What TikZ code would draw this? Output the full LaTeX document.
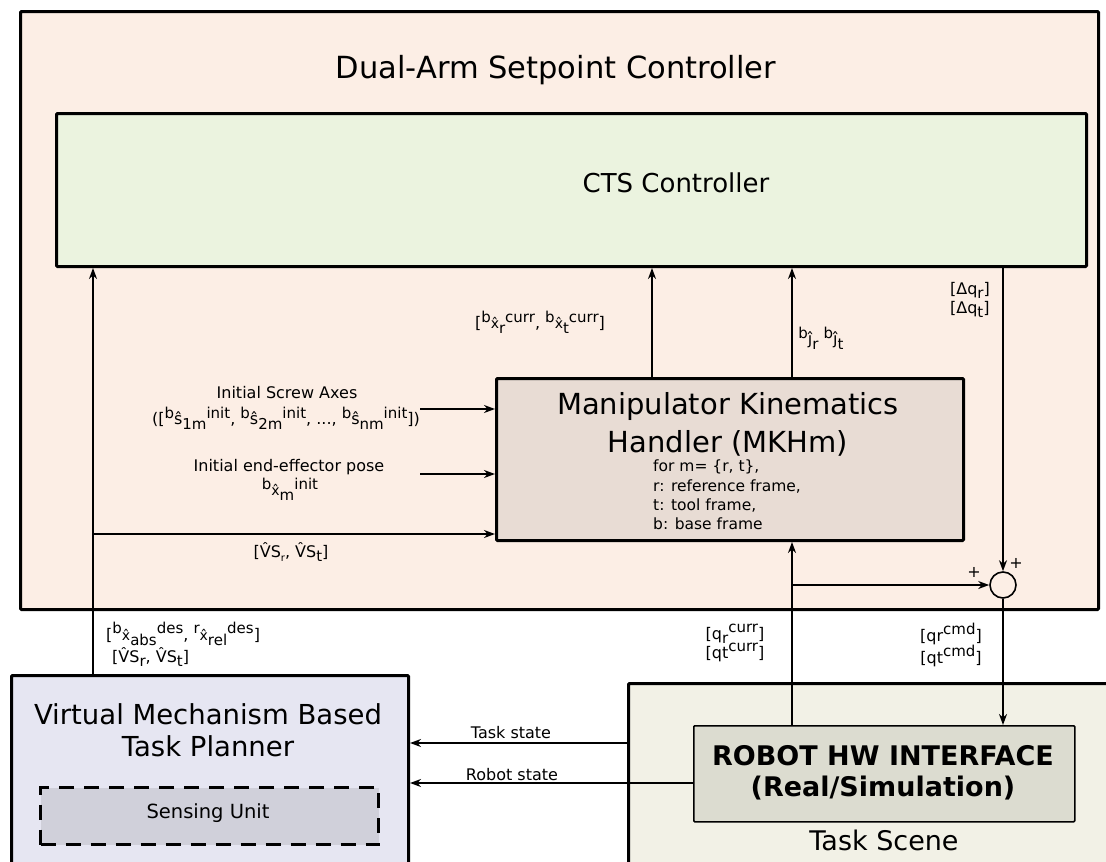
\documentclass[tikz,border=0pt]{standalone}
\usepackage{fontspec}
\setmainfont{DejaVu Sans}
\usetikzlibrary{arrows.meta}
\definecolor{peach}{HTML}{FCEEE5}
\definecolor{ctsgreen}{HTML}{EBF3DF}
\definecolor{mkhfill}{HTML}{E8DCD4}
\definecolor{vmpfill}{HTML}{E6E6F2}
\definecolor{sensfill}{HTML}{D0D0DA}
\definecolor{scenefill}{HTML}{F2F1E6}
\definecolor{hwfill}{HTML}{DCDCD0}
\newcommand\SupT[1]{\raisebox{0.42em}{\fontsize{15}{15}\selectfont #1}}
\newcommand\SubT[1]{\raisebox{-0.28em}{\fontsize{15}{15}\selectfont #1}}
\newcommand\XH{{\fontsize{14}{14}\selectfont x̂}}
\begin{document}
\begin{tikzpicture}[x=1pt,y=-1pt,
  blk/.style={draw=black, line width=3pt, rectangle, anchor=north west, inner sep=0pt, rounded corners=1pt},
  lbl/.style={inner sep=0pt, align=center, font=\fontsize{16}{20}\selectfont},
  arr/.style={-{Stealth[length=11pt,width=8pt,inset=3.5pt]}, line width=1.6pt},
  wire/.style={line width=1.6pt}]
\useasboundingbox (0,0) rectangle (1106,862);
\clip (0,0) rectangle (1106,862);

% boxes
\node[blk, fill=peach, minimum width=1078, minimum height=598] (outer) at (19,10) {};
\node[blk, fill=ctsgreen, minimum width=1030, minimum height=153] (cts) at (55,112) {};
\node[blk, fill=mkhfill, minimum width=467, minimum height=162] (mkh) at (495,377) {};
\node[blk, fill=vmpfill, minimum width=397, minimum height=250] (vmp) at (10,674) {};
\node[blk, fill=sensfill, draw=black, dash pattern=on 15pt off 10pt, rounded corners=0pt, minimum width=338, minimum height=57] (sens) at (39,786) {};
\node[blk, fill=scenefill, minimum width=520, minimum height=250] (scene) at (627,682) {};
\node[blk, fill=hwfill, line width=1.5pt, minimum width=381, minimum height=96] (hw) at (693,725) {};
\node[circle, draw=black, line width=1.6pt, fill=peach, minimum size=26, inner sep=0pt] (sum) at (1003,585) {};

% titles
\node[inner sep=0pt, font=\fontsize{30.5}{36}\selectfont] (ttl) at (556,70) {Dual-Arm Setpoint Controller};
\node[inner sep=0pt, font=\fontsize{26}{32}\selectfont] (ctst) at (676,183) {CTS Controller};
\node[inner sep=0pt, align=center, font=\fontsize{29}{38}\selectfont, anchor=north] (mkht) at (728,392) {Manipulator Kinematics\\Handler (MKHm)};
\node[inner sep=0pt, align=left, font=\fontsize{15.5}{19.3}\selectfont, anchor=north west] (mkhn) at (653,460) {for m= \{r, t\},\\r: reference frame,\\t: tool frame,\\b: base frame};
\node[inner sep=0pt, align=center, font=\fontsize{27.5}{32}\selectfont] (vmpt) at (208,730) {Virtual Mechanism Based\\Task Planner};
\node[inner sep=0pt, font=\fontsize{19.5}{24}\selectfont] (senst) at (208,813) {Sensing Unit};
\node[inner sep=0pt, font=\fontsize{27}{32}\selectfont] (scenet) at (884,840) {Task Scene};
\node[inner sep=0pt, align=center, font=\fontsize{27}{31}\selectfont\bfseries] (hwt) at (883,773) {ROBOT HW INTERFACE\\(Real/Simulation)};

% helper coordinates
\coordinate (xa) at (93,0);
\coordinate (xb) at (652,0);
\coordinate (xc) at (792,0);
\coordinate (xd) at (1003,0);
\coordinate (yv) at (0,534);
\coordinate (yts) at (0,743);
\coordinate (yrs) at (0,783);
\coordinate (is) at (420,409);
\coordinate (ip) at (420,474);

% connectors
\draw[arr] (xa |- vmp.north) -- (xa |- cts.south);
\draw[arr] (xa |- yv) -- (mkh.west |- yv);
\draw[arr] (is) -- (is -| mkh.west);
\draw[arr] (ip) -- (ip -| mkh.west);
\draw[arr] (xb |- mkh.north) -- (xb |- cts.south);
\draw[arr] (xc |- mkh.north) -- (xc |- cts.south);
\draw[arr] (xd |- cts.south) -- (sum.north);
\draw[arr] (xc |- hw.north) -- (xc |- mkh.south);
\draw[arr] (xc |- sum.west) -- (sum.west);
\draw[arr] (sum.south) -- (sum.south |- hw.north);
\draw[arr] (scene.west |- yts) -- (vmp.east |- yts);
\draw[arr] (hw.west |- yrs) -- (vmp.east |- yrs);

% labels
\node[lbl] (l1) at (540,322) {[\SupT{b}\XH\SubT{r}\SupT{curr}, \SupT{b}\XH\SubT{t}\SupT{curr}]};
\node[lbl] (l2) at (821,338) {\SupT{b}ĵ\SubT{r} \SupT{b}ĵ\SubT{t}};
\node[lbl, align=left] (l3) at (970,300) {[Δq\SubT{r}]\\[-1pt][Δq\SubT{t}]};
\node[lbl] (l4) at (287,393) {Initial Screw Axes};
\node[lbl] (l5) at (286,418) {([\SupT{b}ŝ\SubT{1m}\SupT{init}, \SupT{b}ŝ\SubT{2m}\SupT{init}, ..., \SupT{b}ŝ\SubT{nm}\SupT{init}])};
\node[lbl] (l6) at (289,467) {Initial end-effector pose};
\node[lbl] (l7) at (290,489) {\SupT{b}\XH\SubT{m}\SupT{init}};
\node[lbl] (l8) at (291,552) {[V̂S\SubT{\fontsize{10}{10}\selectfont r}, V̂S\SubT{t}]};
\node[lbl, anchor=west] (l9) at (106,634) {[\SupT{b}\XH\SubT{abs}\SupT{des}, \SupT{r}\XH\SubT{rel}\SupT{des}]};
\node[lbl, anchor=west] (l10) at (112,657) {[V̂S\SubT{r}, V̂S\SubT{t}]};
\node[lbl, align=center] (l11) at (735,643) {[q\SubT{r}\SupT{curr}]\\[-1pt][qt\SupT{curr}]};
\node[lbl, align=center] (l12) at (951,645) {[qr\SupT{cmd}]\\[-1pt][qt\SupT{cmd}]};
\node[lbl] (p1) at (974,572) {+};
\node[lbl] (p2) at (1016,563) {+};
\node[lbl] (l13) at (511,733) {Task state};
\node[lbl] (l14) at (512,775) {Robot state};
\end{tikzpicture}
\end{document}
